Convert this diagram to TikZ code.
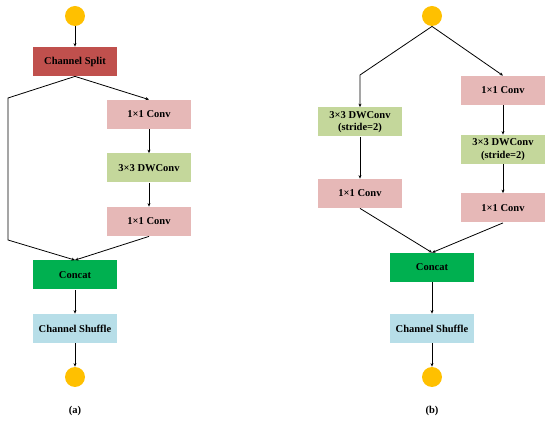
\documentclass[tikz,border=0pt]{standalone}
\usepackage{fontspec}
\setmainfont{Liberation Serif}
\usetikzlibrary{positioning,arrows.meta}

\definecolor{dot}{HTML}{FFC000}
\definecolor{splitred}{HTML}{C0504D}
\definecolor{convpink}{HTML}{E6B8B7}
\definecolor{dwgreen}{HTML}{C4D79B}
\definecolor{catgreen}{HTML}{00B050}
\definecolor{shufblue}{HTML}{B7DEE8}

\begin{document}
\begin{tikzpicture}[x=1pt, y=1pt, on grid, line width=0.8pt,
	-{Stealth[length=3.5pt,width=3pt]},
	font=\fontsize{10.5}{12.7}\selectfont\bfseries,
	blk/.style={rectangle, minimum width=84pt, minimum height=29pt, inner sep=0pt, align=center},
	io/.style={circle, fill=dot, minimum size=20pt, inner sep=0pt},
	split/.style={blk, fill=splitred},
	conv/.style={blk, fill=convpink},
	dw/.style={blk, fill=dwgreen},
	cat/.style={blk, fill=catgreen},
	shuf/.style={blk, fill=shufblue}]
	\useasboundingbox (0,0) rectangle (550,-422);
	% (a)
	\node[io] (ina) at (75,-16) {};
	\node[split] (splita) [below=45.5pt of ina] {Channel Split};
	\node[conv] (conv1a) [below right=53pt and 74pt of splita] {1×1 Conv};
	\node[dw] (dwa) [below=53.5pt of conv1a] {3×3 DWConv};
	\node[conv] (conv2a) [below=53.5pt of dwa] {1×1 Conv};
	\node[cat] (cata) [below=213.5pt of splita] {Concat};
	\node[shuf] (shufa) [below=53.5pt of cata] {Channel Shuffle};
	\node[io] (outa) [below=48.5pt of shufa] {};
	\node (laba) [below=34pt of outa] {(a)};
	\coordinate (la1) at (8,-98);
	\coordinate (la2) at (8,-240);
	\draw (ina) -- (splita);
	\draw (splita.south) -- (conv1a.north);
	\draw (conv1a) -- (dwa);
	\draw (dwa) -- (conv2a);
	\draw (splita.south) -- (la1) -- (la2) -- (cata.north);
	\draw (conv2a.south) -- (cata.north);
	\draw (cata) -- (shufa);
	\draw (shufa) -- (outa);
	% (b)
	\node[io] (inb) at (432,-16) {};
	\node[conv] (rconv1b) [below right=74.5pt and 71pt of inb] {1×1 Conv};
	\node[dw] (rdwb) [below=59pt of rconv1b] {3×3 DWConv\\(stride=2)};
	\node[conv] (rconv2b) [below=58.5pt of rdwb] {1×1 Conv};
	\node[dw] (ldwb) [below left=106pt and 72pt of inb] {3×3 DWConv\\(stride=2)};
	\node[conv] (lconvb) [below=71.5pt of ldwb] {1×1 Conv};
	\node[cat] (catb) [below=251.5pt of inb] {Concat};
	\node[shuf] (shufb) [below=61pt of catb] {Channel Shuffle};
	\node[io] (outb) [below=48.5pt of shufb] {};
	\node (labb) [below=34pt of outb] {(b)};
	\coordinate (lb1) at (360,-75);
	\draw (inb.south) -- (lb1) -- (ldwb.north);
	\draw (inb.south) -- (rconv1b.north);
	\draw (rconv1b) -- (rdwb);
	\draw (rdwb) -- (rconv2b);
	\draw (ldwb) -- (lconvb);
	\draw (lconvb.south) -- (catb.north);
	\draw (rconv2b.south) -- (catb.north);
	\draw (catb) -- (shufb);
	\draw (shufb) -- (outb);
\end{tikzpicture}
\end{document}
